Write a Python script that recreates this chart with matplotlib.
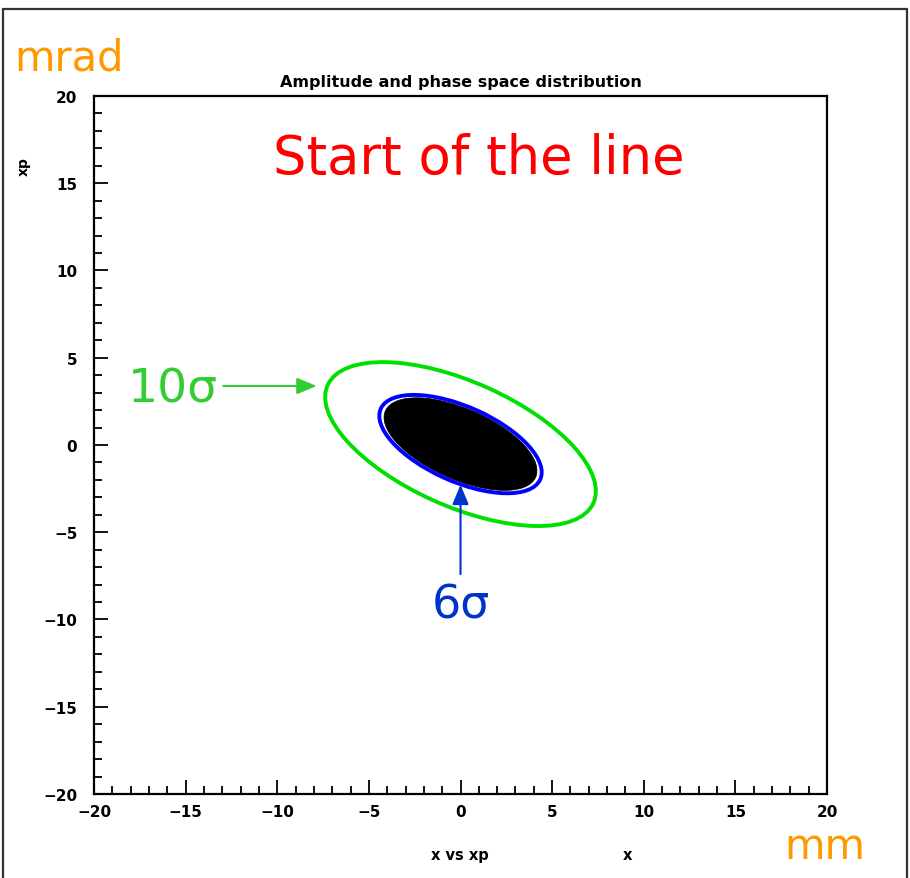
import matplotlib
matplotlib.use("Agg")
import matplotlib.pyplot as plt
from matplotlib.patches import Ellipse, Rectangle
from matplotlib.ticker import MultipleLocator

# axis ranges and ticks
x_range = [-20, 20]
y_range = [-20, 20]
major_ticks = [-20, -15, -10, -5, 0, 5, 10, 15, 20]

# beam ellipse at 1 sigma (full width / height in mm, mrad; tilt in degrees)
ellipse_center = [0.0, 0.05]
ellipse_width_1s = 1.60
ellipse_height_1s = 0.71
ellipse_angle = -25.4

# contour levels drawn and beam core extent
sigma_levels = [6, 10]
sigma_colors = ["#0000ff", "#00e000"]
core_sigma = 5.65

title = "Amplitude and phase space distribution"

fig = plt.figure(figsize=(9.10, 8.79), dpi=100)
ax = fig.add_axes([0.1033, 0.0956, 0.8055, 0.7941])

# black beam core
core = Ellipse(ellipse_center, ellipse_width_1s * core_sigma, ellipse_height_1s * core_sigma,
               angle=ellipse_angle, facecolor="black", edgecolor="black", lw=0.5, zorder=2)
ax.add_patch(core)

for s, c in zip(sigma_levels, sigma_colors):
    e = Ellipse(ellipse_center, ellipse_width_1s * s, ellipse_height_1s * s,
                angle=ellipse_angle, facecolor="none", edgecolor=c, lw=2.8, zorder=3)
    ax.add_patch(e)

ax.set_xlim(x_range)
ax.set_ylim(y_range)
ax.set_xticks(major_ticks)
ax.set_yticks(major_ticks)
ax.set_xticklabels([f"\u2212{abs(t)}" if t < 0 else str(t) for t in major_ticks])
ax.set_yticklabels([f"\u2212{abs(t)}" if t < 0 else str(t) for t in major_ticks])
ax.xaxis.set_minor_locator(MultipleLocator(1))
ax.yaxis.set_minor_locator(MultipleLocator(1))
ax.tick_params(which="both", direction="in", top=False, right=False, width=1.3, colors="black")
ax.tick_params(which="major", length=10)
ax.tick_params(which="minor", length=6)
ax.tick_params(axis="y", which="major", pad=12)
ax.tick_params(axis="x", which="major", pad=7)
for lab in ax.get_xticklabels() + ax.get_yticklabels():
    lab.set_fontsize(11)
    lab.set_fontweight("bold")
for sp in ax.spines.values():
    sp.set_linewidth(1.6)

ax.set_title(title, fontsize=11.5, fontweight="bold", pad=7)

# annotations
ax.text(0.525, 0.911, "Start of the line", transform=ax.transAxes, ha="center", va="center",
        color="red", fontsize=38, family="DejaVu Sans")
ax.annotate("", xy=(-7.7, 3.38), xytext=(-13.1, 3.38),
            arrowprops=dict(arrowstyle="-|>,head_length=1.2,head_width=0.5", color="#33cc33", lw=1.5))
ax.text(-15.7, 2.5, "10\u03c3", color="#33cc33", fontsize=34, ha="center", va="baseline",
        family="DejaVu Sans")
ax.annotate("", xy=(0.0, -2.12), xytext=(0.0, -7.56),
            arrowprops=dict(arrowstyle="-|>,head_length=1.2,head_width=0.5", color="#0033cc", lw=1.5))
ax.text(0.0, -9.86, "6\u03c3", color="#0033cc", fontsize=33, ha="center", va="baseline",
        family="DejaVu Sans")

# axis names as drawn by the original canvas
fig.text(0.026, 0.811, "xp", rotation=90, fontsize=10, fontweight="bold", ha="center", va="center")
fig.text(0.505, 0.027, "x vs xp", fontsize=10.5, fontweight="bold", ha="center", va="center")
fig.text(0.689, 0.027, "x", fontsize=10.5, fontweight="bold", ha="center", va="center")

fig.text(0.076, 0.934, "mrad", color="#ff9900", fontsize=30, ha="center", va="center",
         family="DejaVu Sans")
fig.text(0.906, 0.036, "mm", color="#ff9900", fontsize=30, ha="center", va="center",
         family="DejaVu Sans")

# outer frame of the slide
fig.patches.append(Rectangle((0.003, -0.01), 0.994, 0.999, transform=fig.transFigure,
                             fill=False, edgecolor="#333333", lw=1.6))

fig.savefig("out.png", dpi=100)
